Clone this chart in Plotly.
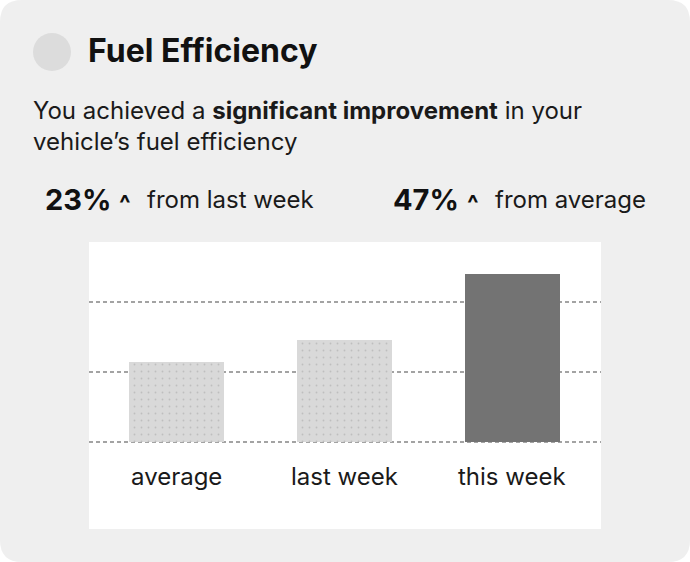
import plotly.graph_objects as go

categories = ["average", "last week", "this week"]
values = [28.5, 36.5, 60.0]
bar_colors = ["#d9d9d9", "#d9d9d9", "#737373"]
grid_vals = [0, 25, 50]
title = "Fuel Efficiency"
sub1 = "You achieved a <b>significant improvement</b> in your"
sub2 = "vehicle\u2019s fuel efficiency"
stat_vals = ["23%", "47%"]
stat_labels = ["from last week", "from average"]

W, H = 690, 562
FONT = "Inter, Roboto, sans-serif"

def px(x):
    return x / W

def py(y):
    return 1 - y / H

fig = go.Figure()
fig.add_trace(go.Bar(
    x=list(range(len(categories))), y=values,
    marker=dict(color=bar_colors, line=dict(width=0),
                pattern=dict(shape=[".", ".", ""], fgcolor="#b0b0b0", fgopacity=0.18,
                             size=7, solidity=0.05)),
    width=0.565, hoverinfo="skip",
))

def rr(x0, y0, x1, y1, rad):
    return (f"M {px(x0+rad)},{py(y0)} L {px(x1-rad)},{py(y0)} Q {px(x1)},{py(y0)} {px(x1)},{py(y0+rad)} "
            f"L {px(x1)},{py(y1-rad)} Q {px(x1)},{py(y1)} {px(x1-rad)},{py(y1)} "
            f"L {px(x0+rad)},{py(y1)} Q {px(x0)},{py(y1)} {px(x0)},{py(y1-rad)} "
            f"L {px(x0)},{py(y0+rad)} Q {px(x0)},{py(y0)} {px(x0+rad)},{py(y0)} Z")

shapes = [
    dict(type="path", xref="paper", yref="paper", path=rr(0, 0, 690, 562, 22),
         fillcolor="#efefef", line=dict(width=0), layer="below"),
    dict(type="rect", xref="paper", yref="paper", x0=px(89), x1=px(601), y0=py(529), y1=py(242),
         fillcolor="#ffffff", line=dict(width=0), layer="below"),
    dict(type="circle", xref="paper", yref="paper", x0=px(33), x1=px(71), y0=py(71), y1=py(33),
         fillcolor="#dcdcdc", line=dict(width=0), layer="below"),
]

ann = []
ann.append(dict(text=f"<b>{title}</b>", x=px(86), y=py(51), xref="paper", yref="paper",
                xanchor="left", yanchor="middle", showarrow=False,
                font=dict(family=FONT, size=32, color="#111111")))
ann.append(dict(text=sub1, x=px(31), y=py(111), xref="paper", yref="paper",
                xanchor="left", yanchor="middle", showarrow=False,
                font=dict(family=FONT, size=24, color="#1a1a1a")))
ann.append(dict(text=sub2, x=px(31), y=py(141), xref="paper", yref="paper",
                xanchor="left", yanchor="middle", showarrow=False,
                font=dict(family=FONT, size=24, color="#1a1a1a")))
stat_x = [43, 391]
for sx, v, lab in zip(stat_x, stat_vals, stat_labels):
    ann.append(dict(text=f"<b>{v}</b>", x=px(sx), y=py(200), xref="paper", yref="paper",
                    xanchor="left", yanchor="middle", showarrow=False,
                    font=dict(family=FONT, size=29, color="#111111")))
    ann.append(dict(text="<b>^</b>", x=px(sx + 74), y=py(203), xref="paper", yref="paper",
                    xanchor="left", yanchor="middle", showarrow=False,
                    font=dict(family=FONT, size=24, color="#111111")))
    ann.append(dict(text=lab, x=px(sx + 102), y=py(200), xref="paper", yref="paper",
                    xanchor="left", yanchor="middle", showarrow=False,
                    font=dict(family=FONT, size=24, color="#1a1a1a")))

for i, c in enumerate(categories):
    ann.append(dict(text=c, x=i, y=-12.2, xref="x", yref="y",
                    xanchor="center", yanchor="middle", showarrow=False,
                    font=dict(family=FONT, size=24, color="#1a1a1a")))

scale = 70 / 25.0
fig.update_layout(
    width=W, height=H, margin=dict(l=0, r=0, t=0, b=0),
    paper_bgcolor="#ffffff", plot_bgcolor="rgba(0,0,0,0)",
    showlegend=False, shapes=shapes, annotations=ann,
    bargap=0,
    xaxis=dict(domain=[px(89), px(601)], range=[-0.521, 2.527], showgrid=False,
               showticklabels=False, zeroline=False, showline=False, fixedrange=True),
    yaxis=dict(domain=[py(529), py(242)], range=[-(529 - 442) / scale, (442 - 242) / scale],
               tickvals=grid_vals, showticklabels=False, showgrid=True,
               gridcolor="#a3a3a3", gridwidth=2, griddash="4px,3px",
               zeroline=False, showline=False, fixedrange=True),
)

fig.write_html("out.html", config=dict(displayModeBar=False),
               post_script="document.body.style.margin='0';document.body.style.overflow='hidden';")
